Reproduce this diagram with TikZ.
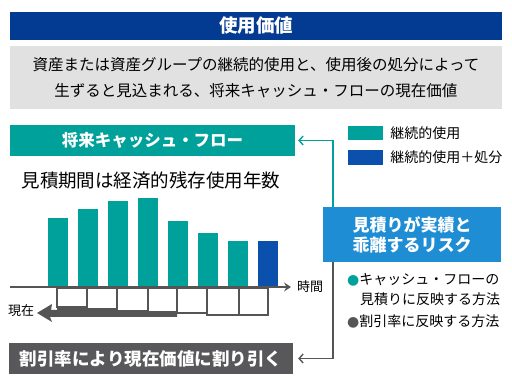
\documentclass[tikz,border=0pt]{standalone}
\usepackage{fontspec}
\setmainfont{Noto Sans CJK JP}
\newfontfamily\dotfont{DejaVu Sans}
\usetikzlibrary{arrows.meta,positioning}
\definecolor{headblue}{HTML}{033A92}
\definecolor{notegray}{HTML}{E1E1E1}
\definecolor{cfteal}{HTML}{00A19B}
\definecolor{cfblue}{HTML}{0B50AC}
\definecolor{riskblue}{HTML}{1E8DD4}
\definecolor{discgray}{HTML}{58585A}
\definecolor{axisgray}{HTML}{555555}

\begin{document}
\begin{tikzpicture}[x=1pt, y=-1pt,
    band/.style={inner sep=0pt, text=white, align=center},
    swatch/.style={minimum width=35pt, minimum height=14.5pt, inner sep=0pt},
    keytext/.style={inner sep=0pt, font=\fontsize{14}{14}\selectfont},
    waytext/.style={anchor=west, inner sep=0pt, font=\fontsize{14}{14}\selectfont},
    cell/.style={draw=axisgray, line width=1.3pt, fill=white},
    link/.style={line width=1.4pt, -{Straight Barb[length=4pt,width=9pt]}}
]
\useasboundingbox (0,0) rectangle (512,390);
\node[band, fill=headblue, minimum width=492pt, minimum height=28pt, font=\fontsize{18.5}{19}\selectfont\bfseries] (head) at (256,26) {使用価値};
\node[fill=notegray, minimum width=492pt, minimum height=63pt, align=center, font=\fontsize{15.5}{26}\selectfont] (def) at (256,77.5) {資産または資産グループの継続的使用と、使用後の処分によって\\生ずると見込まれる、将来キャッシュ・フローの現在価値};

\node[band, fill=cfteal, minimum width=285pt, minimum height=31pt, font=\fontsize{16.5}{17}\selectfont\bfseries] (cf) at (152.5,140.5) {将来キャッシュ・フロー};
\node[inner sep=0pt, font=\fontsize{18.5}{19}\selectfont] (span) at (151,180) {見積期間は経済的残存使用年数};

\node[swatch, fill=cfteal] (keyuse) at (365.5,133) {};
\node[keytext, right=7pt of keyuse] (keyusetxt) {継続的使用};
\node[swatch, fill=cfblue] (keysell) at (365.5,157.5) {};
\node[keytext, right=7pt of keysell] (keyselltxt) {継続的使用＋処分};

\foreach \t [count=\i from 0] in {218,209,201,198,221,233,241}
    \fill[cfteal] (48+30*\i,\t) rectangle (68+30*\i,287);
\fill[cfblue] (258,241) rectangle (278,287);

\foreach \a/\c/\b in {57/87/307, 87/117/309, 117/148/311, 148/177/312, 177/207/313, 207/239/315, 239/268/315}
    \draw[cell] (\a,288) rectangle (\c,\b);
\fill[axisgray] (177,317) |- (148,312) |- (117,311) |- (87,309) |- (57,307) |- (51,310)
    -- (52,304) -- (37,313) -- (52,322) -- (50,317) -- cycle;

\coordinate (t0) at (10,287);
\coordinate (t1) at (291,287);
\draw[axisgray, line width=2.5pt, -{Stealth[length=7pt,width=9pt,inset=2.5pt]}] (t0) -- (t1);
\node[anchor=west, inner sep=0pt, font=\fontsize{13}{13}\selectfont] (time) at (297,287) {時間};
\node[anchor=west, inner sep=0pt, font=\fontsize{13}{13}\selectfont] (now) at (8,311) {現在};

\node[band, fill=riskblue, minimum width=178pt, minimum height=55pt, font=\fontsize{17}{20}\selectfont\bfseries] (risk) at (412,234.5) {見積りが実績と\\乖離するリスク};
\node[waytext] (way1) at (347,280) {\textcolor{cfteal}{\dotfont ●}キャッシュ・フローの};
\node[waytext] (way1b) at (360,299) {見積りに反映する方法};
\node[waytext] (way2) at (347,321) {\textcolor{axisgray}{\dotfont ●}割引率に反映する方法};

\node[band, fill=discgray, minimum width=284pt, minimum height=31pt, font=\fontsize{17.5}{18}\selectfont\bfseries] (disc) at (151,358.5) {割引率により現在価値に割り引く};

\draw[link, cfteal] ([xshift=10pt]risk.north west) |- ([xshift=3pt]cf.east);
\draw[link, axisgray] ([xshift=10pt]risk.south west) |- ([xshift=5pt]disc.east);
\end{tikzpicture}
\end{document}
